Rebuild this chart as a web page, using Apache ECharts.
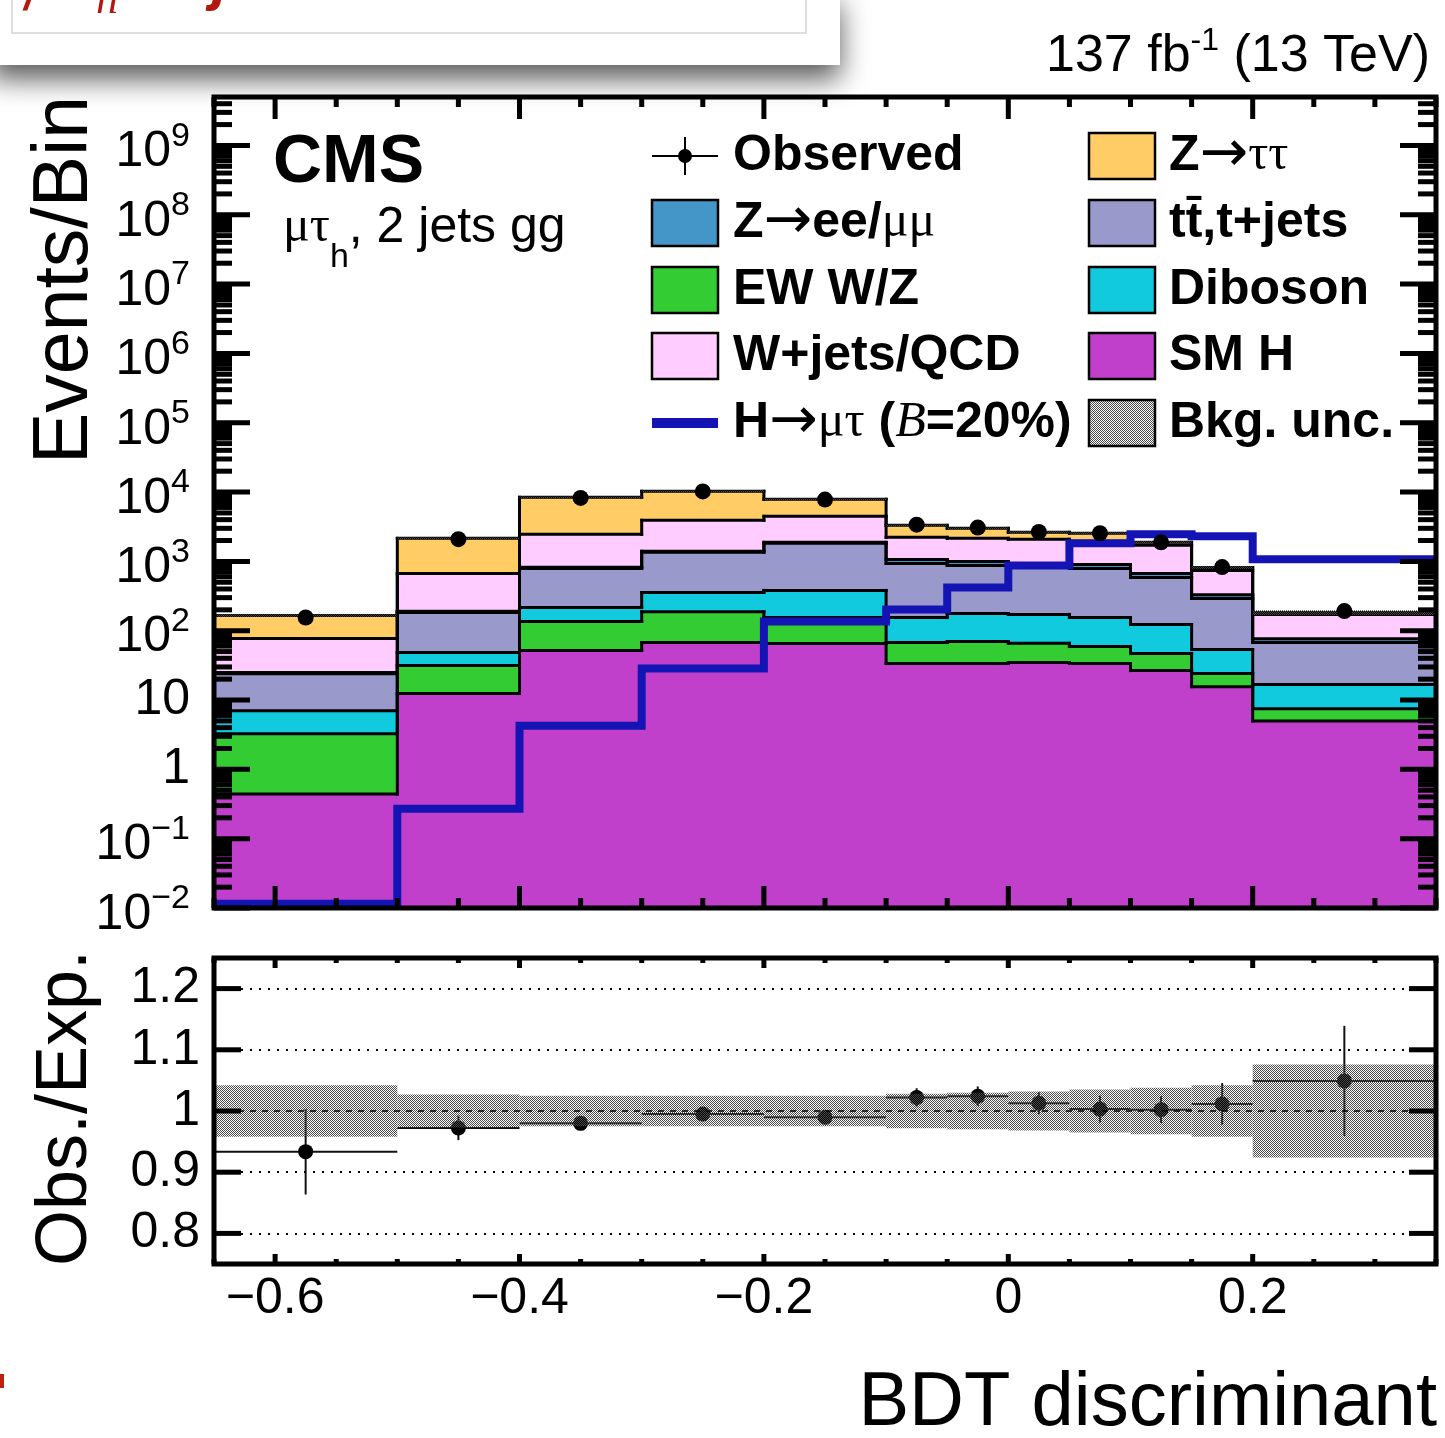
<!DOCTYPE html>
<html>
<head>
<meta charset="utf-8">
<script src="https://cdn.jsdelivr.net/npm/echarts@6/dist/echarts.min.js"></script>
<style>
html, body { margin: 0; padding: 0; background: #fff; }
#chart { width: 1445px; height: 1438px; }
</style>
</head>
<body>
<div id="chart"></div>
<script>
// bin edges of the BDT discriminant
var binEdges = [-0.65, -0.5, -0.4, -0.3, -0.2, -0.1, -0.05, 0, 0.05, 0.1, 0.15, 0.2, 0.35];

// expected events per bin, bottom of the stack first
var smHiggs  = [0.44, 12.4, 51.7, 67.5, 65.3, 33.6, 33.6, 34.7, 33.6, 26.6, 15.6, 5.0];
var ewWZ     = [2.83, 19.0, 84, 121, 90, 34, 36, 31, 25.5, 20.2, 8.5, 2.5];
var diboson  = [3.76, 17, 80, 167, 226, 87, 107, 106, 96, 76, 29.4, 9.2];
var ttJets   = [17, 134, 576, 994, 1440, 780, 698, 648, 637, 464, 238, 50.8];
var zll      = [1, 8, 30, 50, 60, 130, 120, 110, 110, 80, 40, 9];
var wJetsQcd = [52, 480, 1635, 2512, 2590, 1157, 1155, 1151, 1043, 1036, 409, 94.5];
var zTauTau  = [89, 1479, 5953, 6358, 3400, 1091, 850, 546, 594, 179, 78, 12];

var observed  = [155, 2090, 8240, 10220, 7790, 3386, 3072, 2660, 2547, 1886, 828, 192];
var signalLfv = [0.0115, 0.27, 4.27, 28.4, 136, 202, 421, 875, 1820, 2455, 2300, 1070];

// ratio panel: stat. error of data / expectation, relative bkg. uncertainty
var ratioErr = [0.07, 0.02, 0.011, 0.01, 0.011, 0.015, 0.016, 0.018, 0.022, 0.022, 0.034, 0.09];
var bkgUnc   = [0.042, 0.027, 0.025, 0.025, 0.025, 0.028, 0.03, 0.032, 0.035, 0.038, 0.042, 0.076];

var SANS = '"Liberation Sans", Arial, Helvetica, sans-serif';
var SERIF = '"Liberation Serif", "DejaVu Serif", serif';
var ARROW = '"DejaVu Sans", sans-serif';
var YMIN = 0.01, YMAX = 5e9;

var processes = [
  {name: 'SM H', values: smHiggs, color: '#C040CC'},
  {name: 'EW W/Z', values: ewWZ, color: '#33CC33'},
  {name: 'Diboson', values: diboson, color: '#12CADD'},
  {name: 'tt,t+jets', values: ttJets, color: '#9999CC'},
  {name: 'Z->ee/mumu', values: zll, color: '#4496C8'},
  {name: 'W+jets/QCD', values: wJetsQcd, color: '#FFCCFF'},
  {name: 'Z->tautau', values: zTauTau, color: '#FFCC66'}
];

var nb = smHiggs.length;
var run = [];
for (var i = 0; i < nb; i++) run.push(0);
processes.forEach(function (p) {
  p.lo = run.map(function (v) { return v > 0 ? v : YMIN; });
  run = run.map(function (v, i) { return v + p.values[i]; });
  p.hi = run.slice();
});
var total = run;
var centers = [];
for (var i = 0; i < nb; i++) centers.push((binEdges[i] + binEdges[i + 1]) / 2);

function makeHatch() {
  var c = document.createElement('canvas');
  c.width = 2; c.height = 2;
  var g = c.getContext('2d');
  g.fillStyle = '#4a4a4a';
  g.fillRect(0, 0, 1, 1);
  g.fillRect(1, 1, 1, 1);
  return c;
}
var hatch = {image: makeHatch(), repeat: 'repeat'};

function stackSeries(p) {
  return {
    type: 'custom', xAxisIndex: 0, yAxisIndex: 0, clip: true, z: 2, silent: true,
    encode: {x: [0, 1], y: [2, 3]},
    data: p.hi.map(function (v, i) { return [binEdges[i], binEdges[i + 1], p.lo[i], v]; }),
    renderItem: function (params, api) {
      var i = params.dataIndex;
      var a = api.coord([api.value(0), api.value(3)]);
      var b = api.coord([api.value(1), api.value(2)]);
      var kids = [{type: 'rect', z2: 1, shape: {x: a[0] - 0.6, y: a[1], width: b[0] - a[0] + 1.2, height: b[1] - a[1] + 0.6}, style: {fill: p.color}}];
      kids.push({type: 'line', z2: 10, shape: {x1: a[0], y1: a[1], x2: b[0], y2: a[1]}, style: {stroke: '#000', lineWidth: 3, lineCap: 'square'}});
      if (i > 0) {
        var prev = api.coord([api.value(0), p.hi[i - 1]]);
        kids.push({type: 'line', z2: 10, shape: {x1: a[0], y1: prev[1], x2: a[0], y2: a[1]}, style: {stroke: '#000', lineWidth: 3, lineCap: 'square'}});
      }
      return {type: 'group', children: kids};
    }
  };
}

function tickSeries(idx, o) {
  return {
    type: 'custom', xAxisIndex: idx, yAxisIndex: idx, clip: false, z: 10, silent: true,
    data: [[0, o.yRef]],
    renderItem: function (params, api) {
      var cs = params.coordSys;
      var L = cs.x, R = cs.x + cs.width, T = cs.y, B = cs.y + cs.height;
      var kids = [];
      function seg(x1, y1, x2, y2) {
        kids.push({type: 'line', shape: {x1: x1, y1: y1, x2: x2, y2: y2}, style: {stroke: '#000', lineWidth: 5}});
      }
      o.xMajor.forEach(function (v) { var x = api.coord([v, o.yRef])[0]; seg(x, B, x, B - o.xMajLen); seg(x, T, x, T + o.xMajLen); });
      o.xMinor.forEach(function (v) { var x = api.coord([v, o.yRef])[0]; seg(x, B, x, B - o.xMinLen); seg(x, T, x, T + o.xMinLen); });
      o.yMajor.forEach(function (v) { var y = api.coord([0, v])[1]; seg(L, y, L + o.yMajLen, y); seg(R, y, R - o.yMajLen, y); });
      o.yMinor.forEach(function (v) { var y = api.coord([0, v])[1]; seg(L, y, L + o.yMinLen, y); seg(R, y, R - o.yMinLen, y); });
      kids.push({type: 'rect', shape: {x: L, y: T, width: cs.width, height: cs.height}, style: {fill: null, stroke: '#000', lineWidth: 5}});
      return {type: 'group', children: kids};
    }
  };
}

var xMajor = [-0.6, -0.4, -0.2, 0, 0.2], xMinor = [];
for (var k = -13; k <= 7; k++) if (k % 4 !== 0) xMinor.push(k * 0.05);
var yMajorLog = [], yMinorLog = [];
for (var n = -2; n <= 9; n++) {
  yMajorLog.push(Math.pow(10, n));
  for (var m = 2; m <= 9; m++) if (m * Math.pow(10, n) < YMAX) yMinorLog.push(m * Math.pow(10, n));
}

var series = processes.map(stackSeries);

// bkg. uncertainty on top of the stack
series.push({
  type: 'custom', xAxisIndex: 0, yAxisIndex: 0, clip: true, z: 2, silent: true,
  encode: {x: [0, 1], y: [2, 3]},
  data: total.map(function (t, i) { return [binEdges[i], binEdges[i + 1], t * (1 - bkgUnc[i]), t * (1 + bkgUnc[i])]; }),
  renderItem: function (params, api) {
    var a = api.coord([api.value(0), api.value(3)]);
    var b = api.coord([api.value(1), api.value(2)]);
    return {type: 'rect', z2: 12, shape: {x: a[0], y: a[1], width: b[0] - a[0], height: b[1] - a[1]}, style: {fill: hatch}};
  }
});

// signal H -> mu tau
series.push({
  type: 'custom', xAxisIndex: 0, yAxisIndex: 0, clip: true, z: 3, silent: true,
  data: [[0, 1]],
  renderItem: function (params, api) {
    var pts = [];
    signalLfv.forEach(function (v, i) {
      pts.push(api.coord([binEdges[i], v]));
      pts.push(api.coord([binEdges[i + 1], v]));
    });
    return {type: 'polyline', shape: {points: pts}, style: {stroke: '#1414B4', lineWidth: 8, fill: null}};
  }
});

series.push({
  type: 'scatter', xAxisIndex: 0, yAxisIndex: 0, z: 5, symbol: 'circle', symbolSize: 16,
  itemStyle: {color: '#000', opacity: 1},
  data: observed.map(function (v, i) { return [centers[i], v]; })
});

series.push(tickSeries(0, {yRef: 1, xMajor: xMajor, xMinor: xMinor, xMajLen: 22, xMinLen: 10,
  yMajor: yMajorLog, yMinor: yMinorLog, yMajLen: 36, yMinLen: 18}));

// ratio panel
var ratio = observed.map(function (v, i) { return v / total[i]; });

series.push({
  type: 'scatter', xAxisIndex: 1, yAxisIndex: 1, z: 3, symbol: 'circle', symbolSize: 15,
  itemStyle: {color: '#000', opacity: 1},
  data: ratio.map(function (r, i) { return [centers[i], r]; }),
  markLine: {
    silent: true, symbol: 'none', label: {show: false},
    data: [
      {yAxis: 0.8, lineStyle: {type: [2, 7], width: 2, color: '#000'}},
      {yAxis: 0.9, lineStyle: {type: [2, 7], width: 2, color: '#000'}},
      {yAxis: 1.0, lineStyle: {type: [6, 6], width: 1.5, color: '#000'}},
      {yAxis: 1.1, lineStyle: {type: [2, 7], width: 2, color: '#000'}},
      {yAxis: 1.2, lineStyle: {type: [2, 7], width: 2, color: '#000'}}
    ]
  }
});

series.push({
  type: 'custom', xAxisIndex: 1, yAxisIndex: 1, clip: true, z: 3, silent: true,
  encode: {x: [0, 1], y: [2, 3]},
  data: ratio.map(function (r, i) { return [binEdges[i], binEdges[i + 1], r - ratioErr[i], r + ratioErr[i], r]; }),
  renderItem: function (params, api) {
    var xc = (api.value(0) + api.value(1)) / 2;
    var l = api.coord([api.value(0), api.value(4)]);
    var r = api.coord([api.value(1), api.value(4)]);
    var t = api.coord([xc, api.value(3)]);
    var b = api.coord([xc, api.value(2)]);
    return {type: 'group', children: [
      {type: 'line', shape: {x1: l[0], y1: l[1], x2: r[0], y2: r[1]}, style: {stroke: '#111', lineWidth: 2}},
      {type: 'line', shape: {x1: t[0], y1: t[1], x2: b[0], y2: b[1]}, style: {stroke: '#111', lineWidth: 2}}
    ]};
  }
});

series.push({
  type: 'custom', xAxisIndex: 1, yAxisIndex: 1, clip: true, z: 4, silent: true,
  encode: {x: [0, 1], y: [2, 3]},
  data: bkgUnc.map(function (u, i) { return [binEdges[i], binEdges[i + 1], 1 - u, 1 + u]; }),
  renderItem: function (params, api) {
    var a = api.coord([api.value(0), api.value(3)]);
    var b = api.coord([api.value(1), api.value(2)]);
    return {type: 'rect', shape: {x: a[0], y: a[1], width: b[0] - a[0], height: b[1] - a[1]}, style: {fill: hatch}};
  }
});

series.push(tickSeries(1, {yRef: 1, xMajor: xMajor, xMinor: xMinor, xMajLen: 10, xMinLen: 5,
  yMajor: [0.8, 0.9, 1.0, 1.1, 1.2], yMinor: [], yMajLen: 27, yMinLen: 0}));

// legend, labels, decorations
var legRows = [156, 223, 290, 356, 423];
var col1 = 652, col2 = 1089, boxW = 66, boxH = 46;
var legRich = {
  b: {fontSize: 50, fontWeight: 'bold', fontFamily: SANS, color: '#000'},
  s: {fontSize: 50, fontFamily: SERIF, color: '#000'},
  a: {fontSize: 58, fontFamily: ARROW, color: '#000'},
  i: {fontSize: 50, fontStyle: 'italic', fontFamily: SERIF, color: '#000'}
};

function legBox(x, row, fill) {
  return {type: 'rect', shape: {x: x, y: legRows[row] - boxH / 2, width: boxW, height: boxH},
    style: {fill: fill, stroke: '#000', lineWidth: 2.5}};
}
function legText(x, row, text) {
  return {type: 'text', x: x, y: legRows[row],
    style: {text: text, rich: legRich, fontSize: 50, fontWeight: 'bold', fontFamily: SANS, fill: '#000', textAlign: 'left', textVerticalAlign: 'middle'}};
}

var graphics = [
  // observed marker
  {type: 'line', shape: {x1: col1, y1: legRows[0], x2: col1 + boxW, y2: legRows[0]}, style: {stroke: '#000', lineWidth: 2}},
  {type: 'line', shape: {x1: col1 + boxW / 2, y1: legRows[0] - 19, x2: col1 + boxW / 2, y2: legRows[0] + 19}, style: {stroke: '#000', lineWidth: 2}},
  {type: 'circle', shape: {cx: col1 + boxW / 2, cy: legRows[0], r: 7}, style: {fill: '#000'}},
  legText(733, 0, '{b|Observed}'),
  legBox(col1, 1, '#4496C8'), legText(733, 1, '{b|Z}{a|→}{b|ee/}{s|μμ}'),
  legBox(col1, 2, '#33CC33'), legText(733, 2, '{b|EW W/Z}'),
  legBox(col1, 3, '#FFCCFF'), legText(733, 3, '{b|W+jets/QCD}'),
  {type: 'line', shape: {x1: col1, y1: legRows[4], x2: col1 + boxW, y2: legRows[4]}, style: {stroke: '#1414B4', lineWidth: 10}},
  legText(733, 4, '{b|H}{a|→}{s|μτ} {b|(}{i|B}{b|=20%)}'),
  legBox(col2, 0, '#FFCC66'), legText(1169, 0, '{b|Z}{a|→}{s|ττ}'),
  legBox(col2, 1, '#9999CC'), legText(1169, 1, '{b|tt\u0304,t+jets}'),
  legBox(col2, 2, '#12CADD'), legText(1169, 2, '{b|Diboson}'),
  legBox(col2, 3, '#C040CC'), legText(1169, 3, '{b|SM H}'),
  legBox(col2, 4, hatch), legText(1169, 4, '{b|Bkg. unc.}'),

  {type: 'text', x: 273, y: 163, style: {text: 'CMS', fontSize: 68, fontWeight: 'bold', fontFamily: SANS, fill: '#000', textVerticalAlign: 'middle'}},
  {type: 'text', x: 283, y: 228, style: {
    text: '{g|μτ}{sub|h}{n|, 2 jets gg}', textVerticalAlign: 'middle',
    rich: {
      g: {fontSize: 50, fontFamily: SERIF, color: '#000'},
      sub: {fontSize: 34, fontFamily: SANS, color: '#000', padding: [60, 0, 0, 0]},
      n: {fontSize: 50, fontFamily: SANS, color: '#000'}
    }}},
  {type: 'text', x: 1430, y: 50, style: {
    text: '{n|137 fb}{s|-1}{n| (13 TeV)}', textAlign: 'right', textVerticalAlign: 'middle',
    rich: {
      n: {fontSize: 52, fontFamily: SANS, color: '#000', padding: [14, 0, 0, 0]},
      s: {fontSize: 32, fontFamily: SANS, color: '#000', padding: [0, 0, 18, 0]}
    }}},
  {type: 'text', x: 66, y: 280, rotation: Math.PI / 2, style: {text: 'Events/Bin', fontSize: 77, fontFamily: SANS, fill: '#000', textAlign: 'center', textVerticalAlign: 'middle'}},
  {type: 'text', x: 66, y: 1108, rotation: Math.PI / 2, style: {text: 'Obs./Exp.', fontSize: 72, fontFamily: SANS, fill: '#000', textAlign: 'center', textVerticalAlign: 'middle'}},
  {type: 'text', x: 1437, y: 1404, style: {text: 'BDT discriminant', fontSize: 76, fontFamily: SANS, fill: '#000', textAlign: 'right', textVerticalAlign: 'middle'}},

  // slide panel overlapping the top-left corner
  {type: 'rect', z: 20, shape: {x: -10, y: -10, width: 850, height: 75},
    style: {fill: '#fff', shadowBlur: 28, shadowOffsetY: 14, shadowColor: 'rgba(0,0,0,0.65)'}},
  {type: 'rect', z: 21, shape: {x: 12, y: -6, width: 794, height: 39}, style: {fill: null, stroke: '#dedede', lineWidth: 2}},
  {type: 'text', z: 22, x: 24, y: 19, style: {text: '/', fontSize: 40, fontStyle: 'italic', fontWeight: 'bold', fontFamily: SANS, fill: '#B3170E', textVerticalAlign: 'bottom'}},
  {type: 'text', z: 22, x: 96, y: 23, style: {text: 'h', fontSize: 44, fontStyle: 'italic', fontFamily: SERIF, fill: '#B3170E', textVerticalAlign: 'bottom'}},
  {type: 'text', z: 22, x: 212, y: 12, style: {text: 'j', fontSize: 60, fontStyle: 'italic', fontWeight: 'bold', fontFamily: SANS, fill: '#B3170E', textVerticalAlign: 'bottom'}},
  {type: 'rect', z: 22, shape: {x: 0, y: 1374, width: 4, height: 14}, style: {fill: '#C0200F'}}
];

var chart = echarts.init(document.getElementById('chart'));
chart.setOption({
  animation: false,
  backgroundColor: '#fff',
  grid: [
    {left: 214, top: 97, width: 1222, height: 811},
    {left: 214, top: 958, width: 1222, height: 306}
  ],
  xAxis: [
    {gridIndex: 0, type: 'value', min: -0.65, max: 0.35, interval: 0.05,
      axisLine: {show: false}, axisTick: {show: false}, axisLabel: {show: false}, splitLine: {show: false}},
    {gridIndex: 1, type: 'value', min: -0.65, max: 0.35, interval: 0.05,
      axisLine: {show: false}, axisTick: {show: false}, splitLine: {show: false},
      axisLabel: {interval: 0, margin: 10, fontSize: 50, fontFamily: SANS, color: '#000',
        formatter: function (v) {
          var r = Math.round(v * 100);
          if (r % 20 !== 0) return '';
          var t = r / 100;
          return t < 0 ? '\u2212' + (-t) : String(t);
        }}}
  ],
  yAxis: [
    {gridIndex: 0, type: 'log', logBase: 10, min: YMIN, max: YMAX, interval: 1, splitNumber: 12,
      axisLine: {show: false}, axisTick: {show: false}, splitLine: {show: false},
      axisLabel: {margin: 24, showMaxLabel: false, color: '#000',
        formatter: function (v) {
          var n = Math.round(Math.log10(v));
          if (Math.abs(v / Math.pow(10, n) - 1) > 1e-6) return '';
          if (n === 0) return '{p|1}';
          if (n === 1) return '{p|10}';
          return '{b|10}{s|' + (n < 0 ? '\u2212' + (-n) : n) + '}';
        },
        rich: {
          p: {fontSize: 50, fontFamily: SANS, color: '#000'},
          b: {fontSize: 50, fontFamily: SANS, color: '#000', padding: [14, 0, 0, 0]},
          s: {fontSize: 34, fontFamily: SANS, color: '#000', padding: [0, 0, 18, 0]}
        }}},
    {gridIndex: 1, type: 'value', min: 0.75, max: 1.25, interval: 0.05,
      axisLine: {show: false}, axisTick: {show: false}, splitLine: {show: false},
      axisLabel: {interval: 0, margin: 14, fontSize: 50, fontFamily: SANS, color: '#000',
        formatter: function (v) {
          var r = Math.round(v * 100);
          if (r % 10 !== 0) return '';
          return String(r / 100);
        }}}
  ],
  series: series,
  graphic: graphics
});
</script>
</body>
</html>
